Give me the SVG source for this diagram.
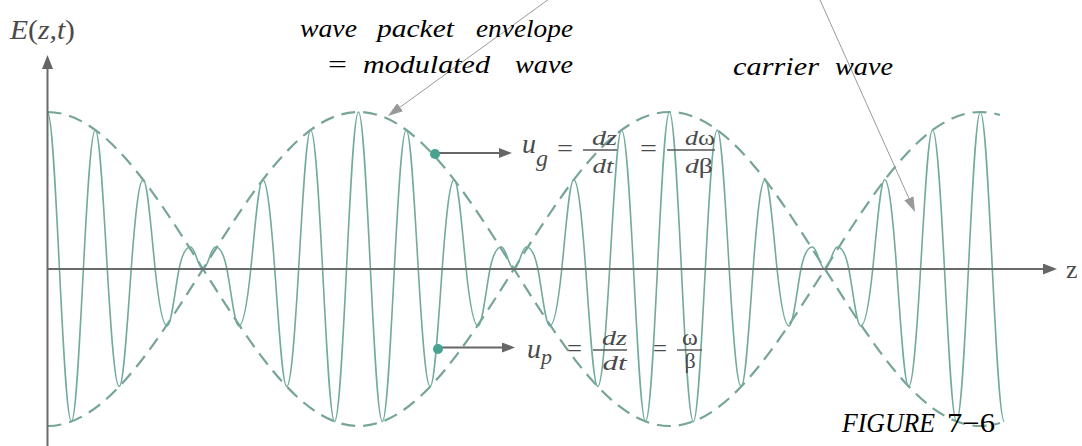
<svg xmlns="http://www.w3.org/2000/svg" width="1082" height="446" viewBox="0 0 1082 446">
<defs>
<style>
.axis{stroke:#6b6b6b;stroke-width:2;fill:none}
.env{stroke:#76a598;stroke-width:2.2;fill:none;stroke-dasharray:14 8}
.car{stroke:#72ab9e;stroke-width:1.6;fill:none;stroke-linejoin:round}
.ann{stroke:#9a9a9a;stroke-width:1;fill:none}
.ptr{stroke:#666;stroke-width:2;fill:none}
.bar{stroke:#555;stroke-width:1.4}
.dot{fill:#47a390}
.lbl{font-family:"Liberation Serif","Times New Roman",serif;font-style:italic;font-size:26px;fill:#000}
.mth{font-family:"Liberation Serif","Times New Roman",serif;font-style:italic;fill:#4a4a4a}
.up{font-family:"Liberation Serif","Times New Roman",serif;font-style:normal;fill:#4a4a4a}
</style>
<marker id="axh" viewBox="0 0 14 11" refX="0" refY="5.5" markerWidth="14" markerHeight="11" markerUnits="userSpaceOnUse" orient="auto"><path d="M0,0 L14,5.5 L0,11 z" fill="#666"/></marker>
<marker id="anh" viewBox="0 0 15 10" refX="0" refY="5" markerWidth="15" markerHeight="10" markerUnits="userSpaceOnUse" orient="auto"><path d="M0,0 L15,5 L0,10 z" fill="#999"/></marker>
<marker id="pth" viewBox="0 0 13 10" refX="0" refY="5" markerWidth="13" markerHeight="10" markerUnits="userSpaceOnUse" orient="auto"><path d="M0,0 L13,5 L0,10 z" fill="#666"/></marker>
</defs>
<rect width="1082" height="446" fill="#fff"/>

<g id="envelope">
<path class="env" d="M47.5,112 c56.27,0 104.78,76.57 155.5,157 c50.72,80.43 99.23,157 155.5,157 c56.27,0 104.78,-76.57 155.5,-157 c50.72,-80.43 99.23,-157 155.5,-157 c56.27,0 104.78,76.57 155.5,157 c50.72,80.43 99.23,157 155.5,157 c6.5,0 13,-1 19.5,-3"/>
<path class="env" d="M47.5,426 c56.27,0 104.78,-76.57 155.5,-157 c50.72,-80.43 99.23,-157 155.5,-157 c56.27,0 104.78,76.57 155.5,157 c50.72,80.43 99.23,157 155.5,157 c56.27,0 104.78,-76.57 155.5,-157 c50.72,-80.43 99.23,-157 155.5,-157 c6.5,0 13,1 19.5,3"/>
</g>

<g id="carrier">
<path class="car" d="M47.5,112 c4.33,0 8.06,77.15 11.96,157
c3.9,79.85 7.63,152.44 11.96,152.44 c4.33,0 8.06,-77.23 11.96,-152.44
c3.9,-75.21 7.63,-139.02 11.96,-139.02 c4.33,0 8.06,72.83 11.96,139.02
c3.9,66.19 7.63,117.52 11.96,117.52 c4.33,0 8.06,-64.18 11.96,-117.52
c3.9,-53.34 7.63,-89.19 11.96,-89.19 c4.33,0 8.06,51.81 11.96,89.19
c3.9,37.38 7.63,57 11.96,57 c4.33,0 8.06,-37.75 11.96,-57
c3,-14.8 7,-22 11.4,-22 c5,0 7.5,22 12.52,22
c5.02,0 7.52,-22 12.52,-22 c4.4,0 8.4,7.2 11.4,22
c3.9,19.25 7.63,57 11.96,57 c4.33,0 8.06,-19.62 11.96,-57
c3.9,-37.38 7.63,-89.19 11.96,-89.19 c4.33,0 8.06,35.85 11.96,89.19
c3.9,53.34 7.63,117.52 11.96,117.52 c4.33,0 8.06,-51.33 11.96,-117.52
c3.9,-66.19 7.63,-139.02 11.96,-139.02 c4.33,0 8.06,63.81 11.96,139.02
c3.9,75.21 7.63,152.44 11.96,152.44 c4.33,0 8.06,-72.59 11.96,-152.44
c3.9,-79.85 7.63,-157 11.96,-157 c4.33,0 8.06,77.15 11.96,157
c3.9,79.85 7.63,152.44 11.96,152.44 c4.33,0 8.06,-77.23 11.96,-152.44
c3.9,-75.21 7.63,-139.02 11.96,-139.02 c4.33,0 8.06,72.83 11.96,139.02
c3.9,66.19 7.63,117.52 11.96,117.52 c4.33,0 8.06,-64.18 11.96,-117.52
c3.9,-53.34 7.63,-89.19 11.96,-89.19 c4.33,0 8.06,51.81 11.96,89.19
c3.9,37.38 7.63,57 11.96,57 c4.33,0 8.06,-37.75 11.96,-57
c3,-14.8 7,-22 11.4,-22 c5,0 7.5,22 12.52,22
c5.02,0 7.52,-22 12.52,-22 c4.4,0 8.4,7.2 11.4,22
c3.9,19.25 7.63,57 11.96,57 c4.33,0 8.06,-19.62 11.96,-57
c3.9,-37.38 7.63,-89.19 11.96,-89.19 c4.33,0 8.06,35.85 11.96,89.19
c3.9,53.34 7.63,117.52 11.96,117.52 c4.33,0 8.06,-51.33 11.96,-117.52
c3.9,-66.19 7.63,-139.02 11.96,-139.02 c4.33,0 8.06,63.81 11.96,139.02
c3.9,75.21 7.63,152.44 11.96,152.44 c4.33,0 8.06,-72.59 11.96,-152.44
c3.9,-79.85 7.63,-157 11.96,-157 c4.33,0 8.06,77.15 11.96,157
c3.9,79.85 7.63,152.44 11.96,152.44 c4.33,0 8.06,-77.23 11.96,-152.44
c3.9,-75.21 7.63,-139.02 11.96,-139.02 c4.33,0 8.06,72.83 11.96,139.02
c3.9,66.19 7.63,117.52 11.96,117.52 c4.33,0 8.06,-64.18 11.96,-117.52
c3.9,-53.34 7.63,-89.19 11.96,-89.19 c4.33,0 8.06,51.81 11.96,89.19
c3.9,37.38 7.63,57 11.96,57 c4.33,0 8.06,-37.75 11.96,-57
c3,-14.8 7,-22 11.4,-22 c5,0 7.5,22 12.52,22
c5.02,0 7.52,-22 12.52,-22 c4.4,0 8.4,7.2 11.4,22
c3.9,19.25 7.63,57 11.96,57 c4.33,0 8.06,-19.62 11.96,-57
c3.9,-37.38 7.63,-89.19 11.96,-89.19 c4.33,0 8.06,35.85 11.96,89.19
c3.9,53.34 7.63,117.52 11.96,117.52 c4.33,0 8.06,-51.33 11.96,-117.52
c3.9,-66.19 7.63,-139.02 11.96,-139.02 c4.33,0 8.06,63.81 11.96,139.02
c3.9,75.21 7.63,152.44 11.96,152.44 c4.33,0 8.06,-72.59 11.96,-152.44
c3.9,-79.85 7.63,-157 11.96,-157 c4.33,0 8.06,77.15 11.96,157
c3.9,79.85 7.63,152.44 11.96,152.44"/>
</g>

<g id="axes">
<line class="axis" x1="47.5" y1="446" x2="47.5" y2="69" marker-end="url(#axh)"/>
<line class="axis" x1="47" y1="269" x2="1043" y2="269" marker-end="url(#axh)"/>
<text class="mth" x="10" y="39" font-size="28" textLength="65" lengthAdjust="spacingAndGlyphs">E<tspan class="up">(</tspan>z,t<tspan class="up">)</tspan></text>
<text class="up" x="1066" y="278" font-size="26" fill="#666">z</text>
</g>

<g id="connectors">
<line class="ann" x1="549" y1="-1" x2="400.1" y2="107.2" marker-end="url(#anh)"/>
<line class="ann" x1="819.6" y1="-1" x2="908.9" y2="198.3" marker-end="url(#anh)"/>
<line class="ptr" x1="438" y1="153" x2="499" y2="153" marker-end="url(#pth)"/>
<line class="ptr" x1="441" y1="347.5" x2="502" y2="347.5" marker-end="url(#pth)"/>
</g>

<g id="label-envelope">
<text class="lbl" x="300" y="37" textLength="57" lengthAdjust="spacingAndGlyphs">wave</text>
<text class="lbl" x="377" y="37" textLength="77" lengthAdjust="spacingAndGlyphs">packet</text>
<text class="lbl" x="476" y="37" textLength="97" lengthAdjust="spacingAndGlyphs">envelope</text>
<text class="lbl" x="328" y="73" style="font-style:normal" textLength="19" lengthAdjust="spacingAndGlyphs">=</text>
<text class="lbl" x="363" y="73" textLength="127" lengthAdjust="spacingAndGlyphs">modulated</text>
<text class="lbl" x="515" y="73" textLength="58" lengthAdjust="spacingAndGlyphs">wave</text>
</g>

<g id="label-carrier">
<text class="lbl" x="733" y="75" textLength="86" lengthAdjust="spacingAndGlyphs">carrier</text>
<text class="lbl" x="835" y="75" textLength="58" lengthAdjust="spacingAndGlyphs">wave</text>
</g>

<g id="group-velocity">
<circle class="dot" cx="435" cy="154" r="5"/>
<text class="mth" x="522" y="153" font-size="28">u<tspan font-size="24" dy="13">g</tspan></text>
<text class="up" x="557" y="156.5" font-size="26" textLength="16" lengthAdjust="spacingAndGlyphs">=</text>
<text class="mth" x="604.5" y="145" font-size="22" text-anchor="middle" textLength="25" lengthAdjust="spacingAndGlyphs">dz</text>
<line class="bar" x1="583" y1="150" x2="617" y2="150"/>
<text class="mth" x="603" y="172.5" font-size="22" text-anchor="middle" textLength="21" lengthAdjust="spacingAndGlyphs">dt</text>
<text class="up" x="640" y="156.5" font-size="26" textLength="17" lengthAdjust="spacingAndGlyphs">=</text>
<text class="mth" x="700" y="145" font-size="22" text-anchor="middle" textLength="30" lengthAdjust="spacingAndGlyphs">d<tspan class="up">ω</tspan></text>
<line class="bar" x1="667" y1="150" x2="715" y2="150"/>
<text class="mth" x="699" y="172.5" font-size="22" text-anchor="middle" textLength="28" lengthAdjust="spacingAndGlyphs">d<tspan class="up">β</tspan></text>
</g>

<g id="phase-velocity">
<circle class="dot" cx="438" cy="349" r="5"/>
<text class="mth" x="527" y="358" font-size="28">u<tspan font-size="22" dy="6">p</tspan></text>
<text class="up" x="567" y="357" font-size="26" textLength="15" lengthAdjust="spacingAndGlyphs">=</text>
<text class="mth" x="614.5" y="345" font-size="22" text-anchor="middle" textLength="25" lengthAdjust="spacingAndGlyphs">dz</text>
<line class="bar" x1="593" y1="350" x2="627" y2="350"/>
<text class="mth" x="614.5" y="370" font-size="22" text-anchor="middle" textLength="24" lengthAdjust="spacingAndGlyphs">dt</text>
<text class="up" x="653" y="357" font-size="26" textLength="14" lengthAdjust="spacingAndGlyphs">=</text>
<text class="up" x="690" y="345" font-size="24" text-anchor="middle">ω</text>
<line class="bar" x1="677" y1="350" x2="702" y2="350"/>
<text class="up" x="690" y="368" font-size="22" text-anchor="middle">β</text>
</g>

<g id="caption">
<text class="lbl" x="842" y="432" style="font-size:27px" textLength="93" lengthAdjust="spacingAndGlyphs">FIGURE</text>
<text class="lbl" x="947" y="432" style="font-size:27px;font-style:normal" textLength="48" lengthAdjust="spacingAndGlyphs">7−6</text>
</g>
</svg>
